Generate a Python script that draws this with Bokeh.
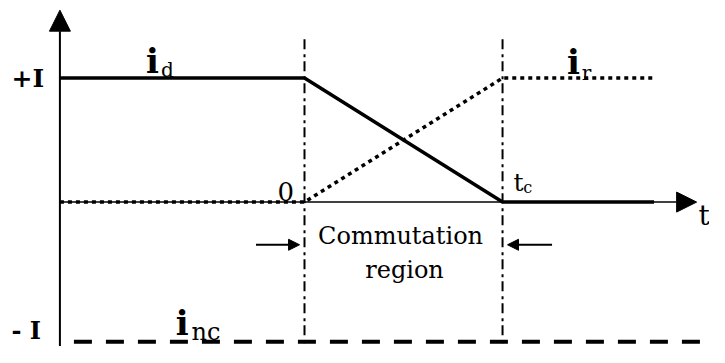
from bokeh.plotting import figure
from bokeh.models import Range1d, Arrow, NormalHead
from bokeh.core.properties import value
from bokeh.embed import file_html
from bokeh.resources import INLINE

# ---- data (time in units of t_c, current in units of I) ----
t_axis = -1.235            # where the current axis crosses
t_id = [t_axis, 0.0, 1.0, 1.765]
i_d = [1.0, 1.0, 0.0, 0.0]
t_ir = [t_axis, 0.0, 1.0, 1.775]
i_r = [0.0, 0.0, 1.0, 1.0]
t_inc = [t_axis, 2.1]
i_nc = [-1.125, -1.125]
t_edges = [0.0, 1.0]       # commutation region boundaries (0 and t_c)
edge_top = 1.328
edge_bottom = -1.25
t_arrow_tip = 1.98
i_arrow_tip = 1.547

FONT = value("DejaVu Serif")

p = figure(width=709, height=347,
           x_range=Range1d(-1.535, 2.045), y_range=Range1d(-1.172, 1.625),
           x_axis_type=None, y_axis_type=None,
           output_backend="svg", toolbar_location=None, min_border=0)
p.outline_line_color = None
p.background_fill_color = "white"

# vertical dash-dot boundaries
for te in t_edges:
    p.line([te, te], [edge_bottom, edge_top], line_color="black",
           line_width=2, line_dash="10 4 3 5")

# time axis (thin) with arrow
p.add_layout(Arrow(end=NormalHead(size=20, fill_color="black", line_color="black"),
                   x_start=t_axis, y_start=0.0, x_end=t_arrow_tip, y_end=0.0,
                   line_color="black", line_width=1.5))
# current axis with arrow
p.add_layout(Arrow(end=NormalHead(size=21, fill_color="black", line_color="black"),
                   x_start=t_axis, y_start=-1.16, x_end=t_axis, y_end=i_arrow_tip,
                   line_color="black", line_width=2))

# i_nc dashed
p.line(t_inc, i_nc, line_color="black", line_width=4, line_dash="18 14",
       line_dash_offset=18)
# i_r dotted
p.line(t_ir, i_r, line_color="black", line_width=3.5, line_dash="4 4")
# i_d solid
p.line(t_id, i_d, line_color="black", line_width=3.5, line_join="miter")

# commutation region arrows
p.add_layout(Arrow(end=NormalHead(size=11, fill_color="black", line_color="black"),
                   x_start=-0.245, y_start=-0.344, x_end=-0.025, y_end=-0.344,
                   line_color="black", line_width=2))
p.add_layout(Arrow(end=NormalHead(size=11, fill_color="black", line_color="black"),
                   x_start=1.25, y_start=-0.344, x_end=1.025, y_end=-0.344,
                   line_color="black", line_width=2))

# level labels
p.text(x=[-1.315], y=[1.0], text=["+I"], text_font=FONT, text_font_size="25px",
       text_font_style="bold", text_align="right", text_baseline="middle")
p.text(x=[-1.33], y=[-1.15], text=["- I"], text_font=FONT, text_font_size="24px",
       text_font_style="bold", text_align="right", text_baseline="bottom")

# current names (bold i + subscript)
p.text(x=[-0.8, 1.325, -0.65], y=[1.14, 1.133, -0.977], text=["i", "i", "i"],
       text_font=FONT, text_font_size="34px", text_font_style="bold",
       text_align="left", text_baseline="alphabetic")
p.text(x=[-0.725, 1.40], y=[1.0625, 1.039], text=["d", "r"],
       text_font=FONT, text_font_size="20px",
       text_align="left", text_baseline="alphabetic")
p.text(x=[-0.57], y=[-1.047], text=["nc"],
       text_font=FONT, text_font_size="24px",
       text_align="left", text_baseline="alphabetic")

# time marks
p.text(x=[-0.095], y=[0.086], text=["0"], text_font=FONT, text_font_size="26px",
       text_align="center", text_baseline="alphabetic")
p.text(x=[1.055], y=[0.156], text=["t"], text_font=FONT, text_font_size="25px",
       text_align="left", text_baseline="alphabetic")
p.text(x=[1.105], y=[0.117], text=["c"], text_font=FONT, text_font_size="16px",
       text_align="left", text_baseline="alphabetic")
p.text(x=[1.99], y=[-0.109], text=["t"], text_font=FONT, text_font_size="28px",
       text_align="left", text_baseline="alphabetic")

# region text
p.text(x=[0.485, 0.505], y=[-0.273, -0.547], text=["Commutation", "region"],
       text_font=FONT, text_font_size="24px",
       text_align="center", text_baseline="alphabetic")

open("out.html", "w").write(file_html(p, INLINE))
